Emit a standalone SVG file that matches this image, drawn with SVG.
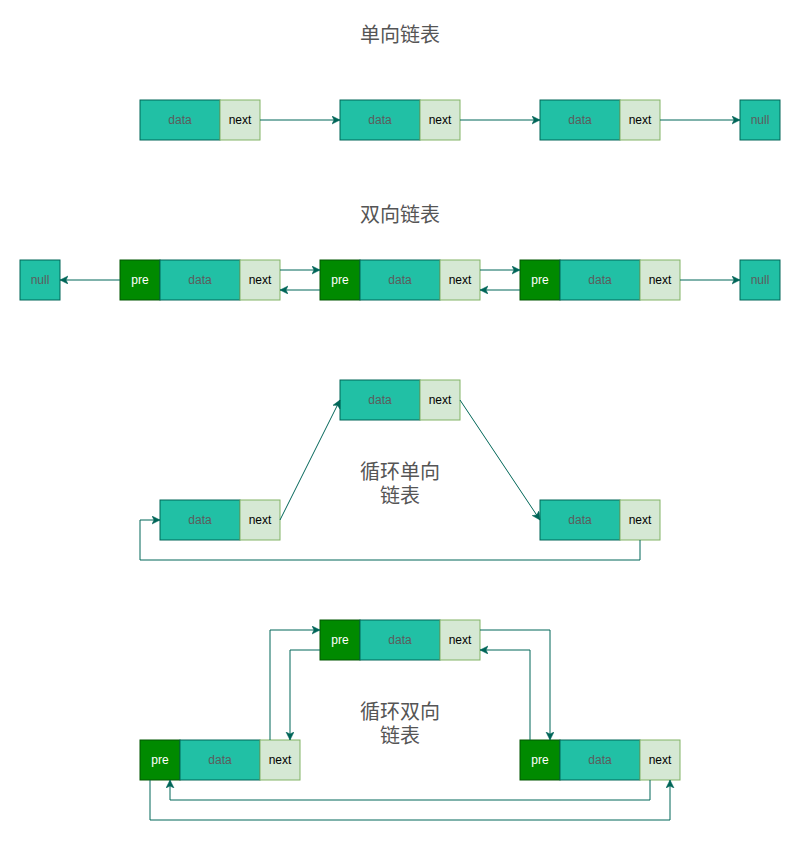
<svg xmlns="http://www.w3.org/2000/svg" width="801" height="849" viewBox="0 0 801 849">
<defs>
<marker id="arr" markerUnits="userSpaceOnUse" markerWidth="10" markerHeight="10" refX="8" refY="4" orient="auto">
<path d="M0,0 L8,4 L0,8 L2,4 Z" fill="#006658" stroke="#006658" stroke-width="0.5"/>
</marker>
<style>
.d{fill:#21C0A5;stroke:#006658;stroke-width:1}
.n{fill:#D5E8D4;stroke:#82B366;stroke-width:1}
.p{fill:#008A00;stroke:#005700;stroke-width:1}
.t{font-family:"Liberation Sans",Arial,sans-serif;font-size:12px;text-anchor:middle;dominant-baseline:central}
.td{fill:#5C5C5C}
.tn{fill:#000000}
.tp{fill:#FFFFFF}
.title{font-family:"Liberation Sans","Noto Sans CJK SC",sans-serif;font-size:20px;fill:#555555;text-anchor:middle;dominant-baseline:central}
.e{fill:none;stroke:#006658;stroke-width:1;marker-end:url(#arr)}
</style>
</defs>
<rect width="801" height="849" fill="#FFFFFF"/>

<g id="titles">
<text class="title" x="400" y="35">单向链表</text>
<text class="title" x="400" y="215">双向链表</text>
<text class="title" x="400" y="472">循环单向</text>
<text class="title" x="400" y="496">链表</text>
<text class="title" x="400" y="712">循环双向</text>
<text class="title" x="400" y="736">链表</text>
</g>

<!-- Section 1 -->
<g id="s1-n1">
<rect class="d" x="140" y="100" width="80" height="40"/><text class="t td" x="180" y="120">data</text>
<rect class="n" x="220" y="100" width="40" height="40"/><text class="t tn" x="240" y="120">next</text>
</g>
<g id="s1-n2">
<rect class="d" x="340" y="100" width="80" height="40"/><text class="t td" x="380" y="120">data</text>
<rect class="n" x="420" y="100" width="40" height="40"/><text class="t tn" x="440" y="120">next</text>
</g>
<g id="s1-n3">
<rect class="d" x="540" y="100" width="80" height="40"/><text class="t td" x="580" y="120">data</text>
<rect class="n" x="620" y="100" width="40" height="40"/><text class="t tn" x="640" y="120">next</text>
</g>
<g id="s1-null">
<rect class="d" x="740" y="100" width="40" height="40"/><text class="t td" x="760" y="120">null</text>
</g>

<!-- Section 2 -->
<g id="s2-null-left">
<rect class="d" x="20" y="260" width="40" height="40"/><text class="t td" x="40" y="280">null</text>
</g>
<g id="s2-n1">
<rect class="p" x="120" y="260" width="40" height="40"/><text class="t tp" x="140" y="280">pre</text>
<rect class="d" x="160" y="260" width="80" height="40"/><text class="t td" x="200" y="280">data</text>
<rect class="n" x="240" y="260" width="40" height="40"/><text class="t tn" x="260" y="280">next</text>
</g>
<g id="s2-n2">
<rect class="p" x="320" y="260" width="40" height="40"/><text class="t tp" x="340" y="280">pre</text>
<rect class="d" x="360" y="260" width="80" height="40"/><text class="t td" x="400" y="280">data</text>
<rect class="n" x="440" y="260" width="40" height="40"/><text class="t tn" x="460" y="280">next</text>
</g>
<g id="s2-n3">
<rect class="p" x="520" y="260" width="40" height="40"/><text class="t tp" x="540" y="280">pre</text>
<rect class="d" x="560" y="260" width="80" height="40"/><text class="t td" x="600" y="280">data</text>
<rect class="n" x="640" y="260" width="40" height="40"/><text class="t tn" x="660" y="280">next</text>
</g>
<g id="s2-null-right">
<rect class="d" x="740" y="260" width="40" height="40"/><text class="t td" x="760" y="280">null</text>
</g>

<!-- Section 3 -->
<g id="s3-top">
<rect class="d" x="340" y="380" width="80" height="40"/><text class="t td" x="380" y="400">data</text>
<rect class="n" x="420" y="380" width="40" height="40"/><text class="t tn" x="440" y="400">next</text>
</g>
<g id="s3-left">
<rect class="d" x="160" y="500" width="80" height="40"/><text class="t td" x="200" y="520">data</text>
<rect class="n" x="240" y="500" width="40" height="40"/><text class="t tn" x="260" y="520">next</text>
</g>
<g id="s3-right">
<rect class="d" x="540" y="500" width="80" height="40"/><text class="t td" x="580" y="520">data</text>
<rect class="n" x="620" y="500" width="40" height="40"/><text class="t tn" x="640" y="520">next</text>
</g>

<!-- Section 4 -->
<g id="s4-top">
<rect class="p" x="320" y="620" width="40" height="40"/><text class="t tp" x="340" y="640">pre</text>
<rect class="d" x="360" y="620" width="80" height="40"/><text class="t td" x="400" y="640">data</text>
<rect class="n" x="440" y="620" width="40" height="40"/><text class="t tn" x="460" y="640">next</text>
</g>
<g id="s4-left">
<rect class="p" x="140" y="740" width="40" height="40"/><text class="t tp" x="160" y="760">pre</text>
<rect class="d" x="180" y="740" width="80" height="40"/><text class="t td" x="220" y="760">data</text>
<rect class="n" x="260" y="740" width="40" height="40"/><text class="t tn" x="280" y="760">next</text>
</g>
<g id="s4-right">
<rect class="p" x="520" y="740" width="40" height="40"/><text class="t tp" x="540" y="760">pre</text>
<rect class="d" x="560" y="740" width="80" height="40"/><text class="t td" x="600" y="760">data</text>
<rect class="n" x="640" y="740" width="40" height="40"/><text class="t tn" x="660" y="760">next</text>
</g>

<g id="connectors">
<path class="e" d="M260,120 L340,120"/>
<path class="e" d="M460,120 L540,120"/>
<path class="e" d="M660,120 L740,120"/>
<path class="e" d="M120,280 L60,280"/>
<path class="e" d="M280,270 L320,270"/>
<path class="e" d="M320,290 L280,290"/>
<path class="e" d="M480,270 L520,270"/>
<path class="e" d="M520,290 L480,290"/>
<path class="e" d="M680,280 L740,280"/>
<path class="e" d="M280,520 L340,400"/>
<path class="e" d="M460,400 L540,520"/>
<path class="e" d="M640,540 L640,560 L140,560 L140,520 L160,520"/>
<path class="e" d="M270,740 L270,630 L320,630"/>
<path class="e" d="M320,650 L290,650 L290,740"/>
<path class="e" d="M480,630 L550,630 L550,740"/>
<path class="e" d="M530,740 L530,650 L480,650"/>
<path class="e" d="M650,780 L650,800 L170,800 L170,780"/>
<path class="e" d="M150,780 L150,820 L670,820 L670,780"/>
</g>
</svg>
